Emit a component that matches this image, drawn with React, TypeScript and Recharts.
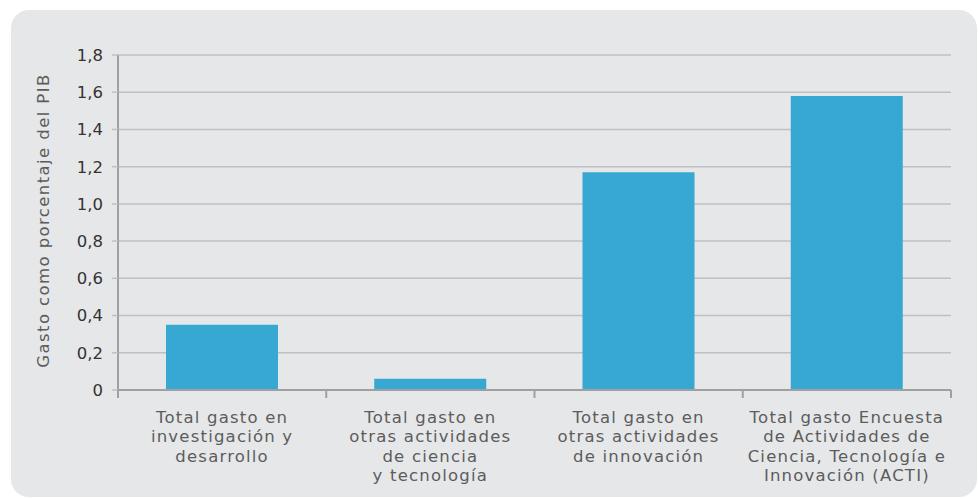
import React from 'react';
import { BarChart, Bar, XAxis, YAxis, CartesianGrid, Label } from 'recharts';

const categoryLines: string[][] = [
  ['Total gasto en', 'investigación y', 'desarrollo'],
  ['Total gasto en', 'otras actividades', 'de ciencia', 'y tecnología'],
  ['Total gasto en', 'otras actividades', 'de innovación'],
  ['Total gasto Encuesta', 'de Actividades de', 'Ciencia, Tecnología e', 'Innovación (ACTI)'],
];
const categories = categoryLines.map((l) => l.join(' '));
const values = [0.35, 0.06, 1.17, 1.58];
const yTicks = [0, 0.2, 0.4, 0.6, 0.8, 1.0, 1.2, 1.4, 1.6, 1.8];
const yLabel = 'Gasto como porcentaje del PIB';

const data = categories.map((c, i) => ({ name: c, value: values[i] }));

const W = 978;
const H = 498;
const margin = { top: 55, right: 27, bottom: 0, left: 0 };
const yAxisWidth = 118;
const halfBand = (W - margin.right - margin.left - yAxisWidth) / categories.length / 2;
const font = 'DejaVu Sans, sans-serif';

const fmt = (v: number) => (v === 0 ? '0' : v.toFixed(1).replace('.', ','));

function CategoryTick(props: any) {
  const { x, y, payload } = props;
  const idx = payload.index ?? categories.indexOf(payload.value);
  const lines = categoryLines[idx] || [];
  const last = idx === categories.length - 1;
  return (
    <g>
      <line x1={x - halfBand} x2={x - halfBand} y1={y} y2={y + 8} stroke="#a0a0a0" strokeWidth={2} />
      {last && <line x1={x + halfBand} x2={x + halfBand} y1={y} y2={y + 8} stroke="#a0a0a0" strokeWidth={2} />}
      <text x={x} y={y} textAnchor="middle" fill="#5c5c5c" fontSize={16.5} letterSpacing={1.2} fontFamily={font}>
        {lines.map((t, i) => (
          <tspan key={i} x={x} y={y + 33 + i * 19.3}>
            {t}
          </tspan>
        ))}
      </text>
    </g>
  );
}

function YLabel(props: any) {
  const vb = props.viewBox || { x: 0, y: 55, width: 118, height: 335 };
  const cx = vb.x + 43;
  const cy = vb.y + vb.height / 2 - 2;
  return (
    <text
      x={cx}
      y={cy}
      transform={`rotate(-90 ${cx} ${cy})`}
      textAnchor="middle"
      dominantBaseline="central"
      fill="#5c5c5c"
      fontSize={16.5}
      letterSpacing={1.4}
      fontFamily={font}
    >
      {yLabel}
    </text>
  );
}

export default function App() {
  return (
    <div style={{ position: 'absolute', left: 0, top: 0, width: W, height: H, background: '#fff', overflow: 'hidden' }}>
      <div
        style={{
          position: 'absolute',
          left: 11,
          top: 10,
          width: 966,
          height: 487,
          background: '#e6e7e9',
          borderRadius: 18,
        }}
      />
      <div style={{ position: 'absolute', left: 0, top: 0 }}>
        <BarChart width={W} height={H} data={data} margin={margin}>
          <CartesianGrid vertical={false} stroke="#bfc0c2" strokeWidth={1.5} />
          <XAxis
            dataKey="name"
            height={108}
            tickLine={false}
            tickSize={0}
            tickMargin={0}
            interval={0}
            axisLine={{ stroke: '#a0a0a0', strokeWidth: 2 }}
            tick={<CategoryTick />}
          />
          <YAxis
            width={yAxisWidth}
            domain={[0, 1.8]}
            ticks={yTicks}
            interval={0}
            tickFormatter={fmt}
            tickSize={6}
            tickMargin={9}
            tickLine={{ stroke: '#bfc0c2', strokeWidth: 1.5 }}
            axisLine={{ stroke: '#a0a0a0', strokeWidth: 2 }}
            tick={{ fill: '#333333', fontSize: 16.5, fontFamily: font }}
          >
            <Label content={<YLabel />} />
          </YAxis>
          <Bar dataKey="value" fill="#36a8d1" barSize={112} isAnimationActive={false} />
        </BarChart>
      </div>
    </div>
  );
}
